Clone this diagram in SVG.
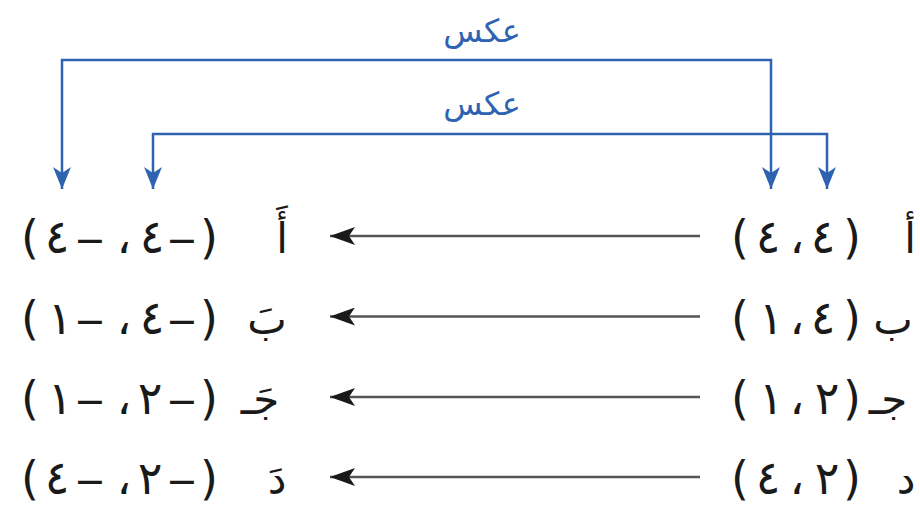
<svg xmlns="http://www.w3.org/2000/svg" width="920" height="519" viewBox="0 0 920 519">
<defs>
<style>
.pt{font-family:"DejaVu Sans",sans-serif;font-size:46px;fill:#1a1a1a;direction:ltr;unicode-bidi:bidi-override}
.mn{font-size:38px}
.lt{font-family:"DejaVu Sans",sans-serif;font-size:42px;fill:#1a1a1a}
.lbl{font-family:"DejaVu Sans",sans-serif;font-size:32px;fill:#2e63b1}
.blk{fill:none;stroke:#555;stroke-width:2.5}
.blu{fill:none;stroke:#2e63b1;stroke-width:2.5}
</style>
<marker id="ah" markerUnits="userSpaceOnUse" markerWidth="26" markerHeight="18" refX="25" refY="9" orient="auto">
<path d="M0,0 L25,9 L0,18 L6,9 Z" fill="#1a1a1a"/>
</marker>
<marker id="bh" markerUnits="userSpaceOnUse" markerWidth="24" markerHeight="18" refX="22" refY="9" orient="auto-start-reverse">
<path d="M0,0 L22,9 L0,18 L6,9 Z" fill="#2e63b1"/>
</marker>
</defs>
<rect width="920" height="519" fill="#ffffff"/>
<g id="connectors">
<path class="blu" d="M62,189 V60 H771 V189" marker-start="url(#bh)" marker-end="url(#bh)"/>
<path class="blu" d="M153,189 V134 H827 V189" marker-start="url(#bh)" marker-end="url(#bh)"/>
<text class="lbl" x="482" y="42" text-anchor="middle">عكس</text>
<text class="lbl" x="482" y="115" text-anchor="middle">عكس</text>
<path class="blk" d="M700,236 H330" marker-end="url(#ah)"/>
<path class="blk" d="M700,316.5 H330" marker-end="url(#ah)"/>
<path class="blk" d="M700,397 H330" marker-end="url(#ah)"/>
<path class="blk" d="M700,477 H330" marker-end="url(#ah)"/>
</g>
<g id="A">
<text class="pt" text-anchor="middle" y="253"><tspan x="740">(</tspan><tspan x="768">٤</tspan><tspan x="797">،</tspan><tspan x="823">٤</tspan><tspan x="852">)</tspan></text>
<text class="lt" x="910" y="253" text-anchor="middle">أ</text>
</g>
<g id="B">
<text class="pt" text-anchor="middle" y="333.5"><tspan x="740">(</tspan><tspan x="771">١</tspan><tspan x="797">،</tspan><tspan x="823">٤</tspan><tspan x="852">)</tspan></text>
<text class="lt" x="893" y="333.5" text-anchor="middle">ب</text>
</g>
<g id="C">
<text class="pt" text-anchor="middle" y="414"><tspan x="740">(</tspan><tspan x="771">١</tspan><tspan x="797">،</tspan><tspan x="827">٢</tspan><tspan x="852">)</tspan></text>
<text class="lt" x="888" y="414" text-anchor="middle">جـ</text>
</g>
<g id="D">
<text class="pt" text-anchor="middle" y="494"><tspan x="740">(</tspan><tspan x="768">٤</tspan><tspan x="797">،</tspan><tspan x="827">٢</tspan><tspan x="852">)</tspan></text>
<text class="lt" x="906" y="494" text-anchor="middle">د</text>
</g>
<g id="A2">
<text class="pt" text-anchor="middle" y="253"><tspan x="30">(</tspan><tspan x="57">٤</tspan><tspan class="mn" x="90">−</tspan><tspan x="124">،</tspan><tspan x="152">٤</tspan><tspan class="mn" x="182">−</tspan><tspan x="209">)</tspan></text>
<text class="lt" x="282" y="253" text-anchor="middle">أَ</text>
</g>
<g id="B2">
<text class="pt" text-anchor="middle" y="333.5"><tspan x="30">(</tspan><tspan x="60">١</tspan><tspan class="mn" x="90">−</tspan><tspan x="124">،</tspan><tspan x="152">٤</tspan><tspan class="mn" x="182">−</tspan><tspan x="209">)</tspan></text>
<text class="lt" x="267" y="333.5" text-anchor="middle">بَ</text>
</g>
<g id="C2">
<text class="pt" text-anchor="middle" y="414"><tspan x="30">(</tspan><tspan x="60">١</tspan><tspan class="mn" x="90">−</tspan><tspan x="124">،</tspan><tspan x="150">٢</tspan><tspan class="mn" x="182">−</tspan><tspan x="209">)</tspan></text>
<text class="lt" x="260" y="414" text-anchor="middle">جَـ</text>
</g>
<g id="D2">
<text class="pt" text-anchor="middle" y="494"><tspan x="30">(</tspan><tspan x="57">٤</tspan><tspan class="mn" x="90">−</tspan><tspan x="124">،</tspan><tspan x="150">٢</tspan><tspan class="mn" x="182">−</tspan><tspan x="209">)</tspan></text>
<text class="lt" x="277" y="494" text-anchor="middle">دَ</text>
</g>
</svg>
